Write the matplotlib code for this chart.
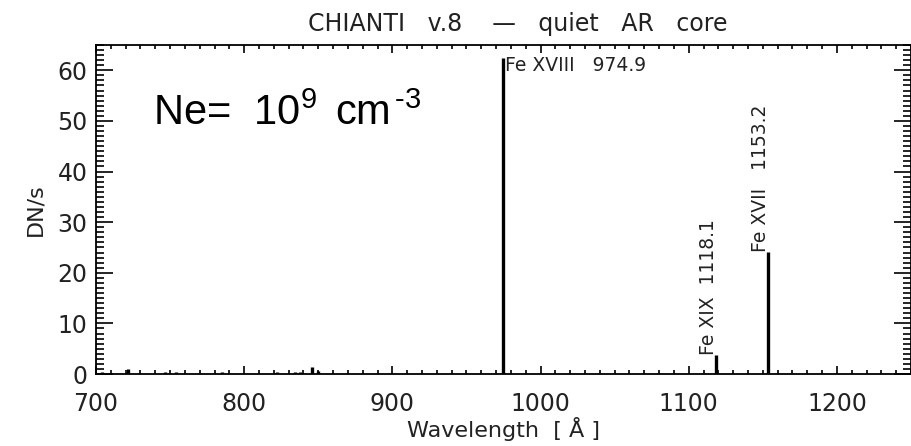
import numpy as np
import matplotlib.pyplot as plt
from matplotlib.ticker import MultipleLocator

# line list (wavelength in Angstrom, DN/s)
wavelength = [703.8, 721.6, 746.6, 754.0, 784.8, 822.0, 834.0, 837.5, 845.5, 850.0,
              974.9, 1079.0, 1118.1, 1153.2]
intensity = [0.3, 1.0, 0.4, 0.4, 0.4, 0.3, 0.3, 0.4, 1.4, 0.5,
             62.5, 0.2, 3.8, 24.2]

# labelled lines
label_wl = [974.9, 1118.1, 1153.2]
label_val = [62.5, 3.8, 24.2]
label_txt = ['Fe XVIII   974.9', 'Fe XIX  1118.1', 'Fe XVII   1153.2']

txt_color = '#222222'

plt.rcParams['mathtext.fontset'] = 'custom'
plt.rcParams['mathtext.rm'] = 'Liberation Sans'
plt.rcParams['mathtext.it'] = 'Liberation Sans'

fig = plt.figure(figsize=(9.12, 4.46), dpi=100)
ax = fig.add_axes([96 / 912, 1 - 374 / 446, (911 - 96) / 912, (374 - 45) / 446])

ax.vlines(wavelength, 0, intensity, color='black', linewidth=2.4)

# first label horizontal, the others rotated
ax.text(label_wl[0] + 1.0, label_val[0] + 0.4, label_txt[0], ha='left', va='top',
        fontsize=13.5, color=txt_color)
for wl, val, txt in zip(label_wl[1:], label_val[1:], label_txt[1:]):
    ax.text(wl + 1.5, val, txt, rotation=90, ha='right', va='bottom',
            fontsize=13.5, color=txt_color)

ax.text(0.07, 0.79, r'Ne=  10$^{\mathrm{9}}\,$ cm$^{\,\text{-}\mathrm{3}}$', transform=ax.transAxes,
        fontsize=30, family='Liberation Sans', ha='left', va='center')

ax.set_xlim(700, 1250)
ax.set_ylim(0, 65)
ax.xaxis.set_major_locator(MultipleLocator(100))
ax.xaxis.set_minor_locator(MultipleLocator(10))
ax.yaxis.set_major_locator(MultipleLocator(10))
ax.yaxis.set_minor_locator(MultipleLocator(1))
ax.tick_params(which='both', direction='in', top=True, right=True,
               colors='black', labelcolor=txt_color, labelsize=17, width=1.2)
ax.tick_params(axis='x', which='major', length=6, pad=13)
ax.tick_params(axis='x', which='minor', length=3)
ax.tick_params(axis='y', which='major', length=12, pad=6)
ax.tick_params(axis='y', which='minor', length=6)
for s in ax.spines.values():
    s.set_linewidth(1.3)

ax.set_title('CHIANTI   v.8    \u2014   quiet   AR   core', fontsize=17, color=txt_color, pad=10)
ax.title.set_x(0.517)
ax.set_xlabel('Wavelength  [ \u00c5 ]', fontsize=16, color=txt_color, labelpad=1)
ax.set_ylabel('DN/s', fontsize=16, color=txt_color, labelpad=9)

fig.savefig('out.png', dpi=100)
